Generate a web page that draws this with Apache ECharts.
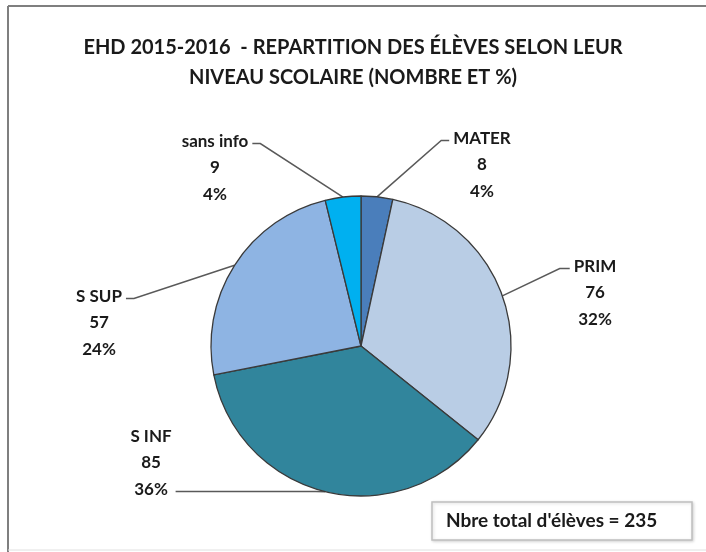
<!DOCTYPE html>
<html>
<head>
<meta charset="utf-8">
<script src="https://cdn.jsdelivr.net/npm/echarts@6/dist/echarts.min.js"></script>
<style>
  html, body { margin: 0; padding: 0; background: #fff; }
  #chart { width: 706px; height: 552px; }
</style>
</head>
<body>
<div id="chart"></div>
<script>
(function () {
    'use strict';

    //////////DATA
    var categories = ['MATER', 'PRIM', 'S INF', 'S SUP', 'sans info'];
    var counts = [8, 76, 85, 57, 9];
    var percentLabels = ['4%', '32%', '36%', '24%', '4%'];   // as printed on the chart
    var sliceColors = ['#4a7ebb', '#b9cde5', '#31859c', '#8eb4e3', '#00b0f0'];
    //////////

    var FONT = 'Lato, "Open Sans", sans-serif';
    var LINE_H = 26.5;

    // where each label block sits (center), which side the leader line hits, and on which text row
    var labelPos = [
        { x: 482, y: 165, side: 'left',  row: 0, bend: 8 },
        { x: 595, y: 293, side: 'left',  row: 0, bend: 10 },
        { x: 151, y: 463, side: 'right', row: 2, bend: 140 },
        { x: 99,  y: 323, side: 'right', row: 0, bend: 8 },
        { x: 215, y: 168, side: 'right', row: 0, bend: 8 }
    ];

    var total = 0;
    for (var i = 0; i < counts.length; i++) { total += counts[i]; }

    var pieData = [];
    for (var i = 0; i < categories.length; i++) {
        pieData.push({ name: categories[i], value: counts[i], itemStyle: { color: sliceColors[i] } });
    }

    var chart = echarts.init(document.getElementById('chart'), null, { renderer: 'canvas' });

    chart.setOption({
        animation: false,
        backgroundColor: '#ffffff',
        title: {
            text: 'EHD 2015-2016  - REPARTITION DES ÉLÈVES SELON LEUR\nNIVEAU SCOLAIRE (NOMBRE ET %)',
            left: 'center',
            top: 28,
            textStyle: {
                fontFamily: FONT,
                fontSize: 20,
                fontWeight: 'bold',
                color: '#1a1a1a',
                lineHeight: 30
            }
        },
        graphic: [
            //////////cadre exterieur
            { type: 'line', shape: { x1: 8, y1: 6, x2: 706, y2: 6 }, style: { stroke: '#7f7f7f', lineWidth: 2 } },
            { type: 'line', shape: { x1: 8, y1: 6, x2: 8, y2: 552 }, style: { stroke: '#7f7f7f', lineWidth: 2 } },
            { type: 'line', shape: { x1: 8, y1: 550, x2: 706, y2: 550 }, style: { stroke: '#e0e0e0', lineWidth: 1 } },
            //////////boite total
            {
                type: 'rect',
                shape: { x: 432, y: 502, width: 260, height: 38 },
                style: {
                    fill: '#ffffff', stroke: '#bfbfbf', lineWidth: 1.5,
                    shadowColor: 'rgba(0,0,0,0.15)', shadowBlur: 3, shadowOffsetX: 1, shadowOffsetY: 1
                }
            },
            {
                type: 'text',
                x: 446, y: 521,
                style: {
                    text: "Nbre total d'élèves = " + total,
                    font: 'bold 19px ' + FONT,
                    fill: '#1a1a1a',
                    textVerticalAlign: 'middle'
                }
            }
        ],
        series: [{
            type: 'pie',
            center: [361, 346],
            radius: 150,
            startAngle: 90,
            clockwise: true,
            avoidLabelOverlap: false,
            emphasis: { disabled: true },
            itemStyle: { borderColor: '#3a3a3a', borderWidth: 1.3 },
            label: {
                show: true,
                position: 'outside',
                fontFamily: FONT,
                fontSize: 17,
                fontWeight: 'bold',
                color: '#1a1a1a',
                lineHeight: LINE_H,
                formatter: function (p) {
                    return p.name + '\n' + p.value + '\n' + percentLabels[p.dataIndex];
                }
            },
            labelLine: {
                show: true,
                length: 20,
                length2: 10,
                lineStyle: { color: '#595959', width: 1.5 }
            },
            labelLayout: function (params) {
                var p = labelPos[params.dataIndex];
                var w = params.labelRect.width;
                var h = params.labelRect.height;
                var lineY = p.y - h / 2 + LINE_H * (p.row + 0.5) + 2;
                var ex = p.side === 'left' ? p.x - w / 2 - 4 : p.x + w / 2 + 4;
                var bx = p.side === 'left' ? ex - p.bend : ex + p.bend;
                var pts = params.labelLinePoints;
                var out = { x: p.x, y: p.y, align: 'center', verticalAlign: 'middle' };
                if (pts && pts.length) {
                    out.labelLinePoints = [pts[0], [bx, lineY], [ex, lineY]];
                }
                return out;
            },
            data: pieData
        }]
    });
})();
</script>
</body>
</html>
